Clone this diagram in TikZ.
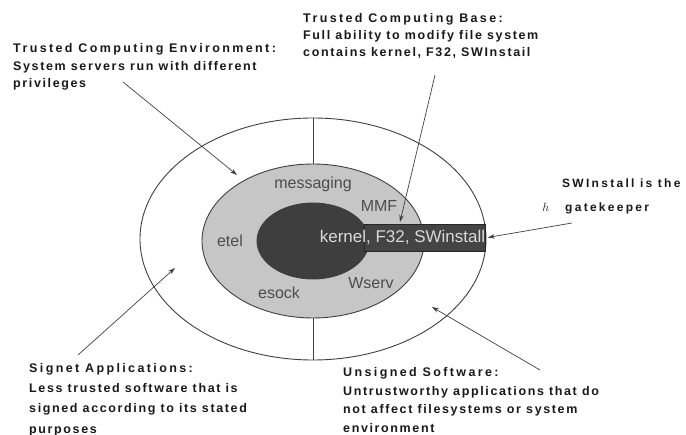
\documentclass[tikz,border=0pt]{standalone}
\usepackage{fontspec}
\setmainfont{Liberation Sans}
\newfontfamily\headfont[LetterSpace=19]{Liberation Sans}
\newfontfamily\bodyfont[LetterSpace=13]{Liberation Sans}
\usetikzlibrary{arrows.meta,shapes.geometric}
\definecolor{ringgray}{HTML}{C6C6C6}
\definecolor{coregray}{HTML}{3E3E3E}
\definecolor{boxgray}{HTML}{444444}

\begin{document}
\begin{tikzpicture}[
  x=1pt, y=-1pt,
  zone/.style={ellipse, draw=black!75, line width=0.9pt, inner sep=0pt},
  ringlabel/.style={font=\fontsize{16}{16}\selectfont, text=black!70},
  note/.style={anchor=north west, align=left, inner sep=0pt, text=black!90},
  pointer/.style={-{Stealth[length=7pt,width=4.5pt]}, line width=0.7pt, draw=black!75},
]
  \useasboundingbox[fill=white] (0,0) rectangle (686,435);

  % nested zones
  \node[zone, fill=white, minimum width=346, minimum height=242] (outer) at (313,239) {};
  \node[zone, fill=ringgray, minimum width=222, minimum height=154] (ring) at (313,241) {};
  \node[zone, draw=coregray, fill=coregray, minimum width=112, minimum height=76] (core) at (313,241) {};
  \node[draw=black!85, fill=boxgray, minimum width=121, minimum height=27, inner sep=0pt] (swbox) at (425,237.5) {};

  \draw[line width=0.9pt, black!75] (outer.north) -- (ring.north);
  \draw[line width=0.9pt, black!75] (ring.south) -- (outer.south);

  \node[font=\fontsize{17}{17}\selectfont, text=white!85!black] (kernel) at (402.5,237.5) {kernel, F32, SWinstall};

  \node[ringlabel] (messaging) at (313,184) {messaging};
  \node[ringlabel] (mmf) at (379,206) {MMF};
  \node[ringlabel] (etel) at (230,241) {etel};
  \node[ringlabel] (esock) at (279,293) {esock};
  \node[ringlabel] (wserv) at (371,283) {Wserv};

  % notes
  \node[note, font=\fontsize{12.5}{17.5}\selectfont\bfseries] (tce) at (13,43.5)
    {{\headfont Trusted Computing Environment:}\\
     {\bodyfont System servers run with different}\\
     {\bodyfont privileges}};
  \node[note, font=\fontsize{12.5}{16.8}\selectfont\bfseries] (tcb) at (303,13.5)
    {{\headfont Trusted Computing Base:}\\
     {\bodyfont Full ability to modify file system}\\
     {\bodyfont contains kernel, F32, SWInstail}};
  \node[note, font=\fontsize{12}{24}\selectfont\bfseries] (gate) at (562,178.5)
    {{\headfont SWInstall is the}\\
     \llap{\mdseries$h$\hspace{13pt}}\hspace{3pt}{\headfont gatekeeper}};
  \node[note, font=\fontsize{12.5}{20.3}\selectfont\bfseries] (signet) at (29,363)
    {{\headfont Signet Applications:}\\
     {\bodyfont Less trusted software that is}\\
     {\bodyfont signed according to its stated}\\
     {\bodyfont purposes}};
  \node[note, font=\fontsize{12.5}{18.8}\selectfont\bfseries] (unsigned) at (343,367)
    {{\headfont Unsigned Software:}\\
     {\bodyfont Untrustworthy applications that do}\\
     {\bodyfont not affect filesystems or system}\\
     {\bodyfont environment}};

  % pointers
  \coordinate (tcefrom) at (123,82);
  \coordinate (tceto) at (237,175);
  \coordinate (tcbfrom) at (435,75);
  \coordinate (tcbto) at (400,222);
  \coordinate (gatefrom) at (572,223);
  \coordinate (signetfrom) at (78,355);
  \coordinate (signetto) at (175,268);
  \coordinate (unsignedfrom) at (540,370);
  \coordinate (unsignedto) at (432,307);

  \draw[pointer] (tcefrom) -- (tceto);
  \draw[pointer] (tcbfrom) -- (tcbto);
  \draw[pointer] (gatefrom) -- ([xshift=2pt]swbox.east);
  \draw[pointer] (signetfrom) -- (signetto);
  \draw[pointer] (unsignedfrom) -- (unsignedto);
\end{tikzpicture}
\end{document}
